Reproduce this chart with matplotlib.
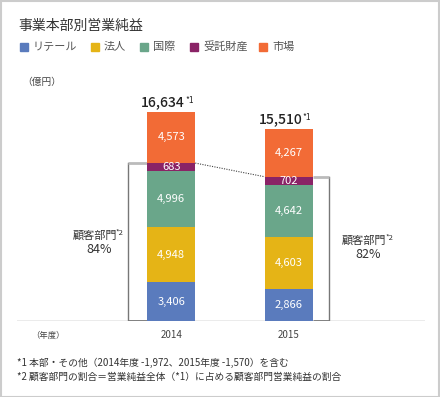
import numpy as np
import matplotlib
matplotlib.use('Agg')
import matplotlib.pyplot as plt

plt.rcParams['font.family'] = ['Noto Sans CJK JP', 'DejaVu Sans']

years = ['2014', '2015']
segments = ['リテール', '法人', '国際', '受託財産', '市場']
colors = ['#5a7bbd', '#e5b416', '#6aa68a', '#8a2366', '#f26b36']
values = {
    'リテール': [3406, 2866],
    '法人': [4948, 4603],
    '国際': [4996, 4642],
    '受託財産': [683, 702],
    '市場': [4573, 4267],
}
totals = ['16,634', '15,510']
customer_share = ['84%', '82%']

W, H = 440, 397
fig = plt.figure(figsize=(W / 100, H / 100), dpi=100)

def fx(px):
    return px / W

def fy(py):
    return 1 - py / H

# axes placement in pixels
base_px = 320.7
px_per_unit = 209.0 / 18606
ymax = 20000
ax_left, ax_right = 17, 425
ax = fig.add_axes([fx(ax_left), fy(base_px), fx(ax_right - ax_left), ymax * px_per_unit / H])
c0, c1 = 171.2, 288.8
step = c1 - c0
ax.set_xlim((ax_left - c0) / step, (ax_right - c0) / step)
ax.set_ylim(0, ymax)
ax.axis('off')

x = np.arange(len(years))
bw = 48 / step
bottom = np.zeros(len(years))
for seg, col in zip(segments, colors):
    v = np.array(values[seg])
    ax.bar(x, v, bw, bottom=bottom, color=col, edgecolor='none', zorder=2)
    for i in range(len(years)):
        ax.text(x[i], bottom[i] + v[i] / 2, f'{v[i]:,}', ha='center', va='center',
                color='white', fontsize=8, zorder=3)
    bottom += v

# totals on top
for i in range(len(years)):
    ax.annotate(totals[i], (x[i] - 0.07, bottom[i] + 250), ha='center', va='bottom',
                fontsize=10, color='#222222', fontweight='medium')
    ax.annotate('*1', (x[i] + 0.12, bottom[i] + 600), ha='left', va='bottom',
                fontsize=6, color='#222222')

# customer segment tops
cust = np.array(values['リテール']) + np.array(values['法人']) + np.array(values['国際']) + np.array(values['受託財産'])
ax.plot([x[0] + bw / 2, x[1] - bw / 2], [cust[0], cust[1]], color='#444444', lw=0.8,
        linestyle=(0, (1, 1.2)), zorder=1)

# brackets
bx = [(128.3 - c0) / step, (329.3 - c0) / step]
edge = [x[0] - bw / 2, x[1] + bw / 2]
for i in range(2):
    ax.plot([bx[i], bx[i]], [0, cust[i]], color='#777777', lw=1, zorder=1)
    ax.plot([bx[i], edge[i]], [cust[i], cust[i]], color='#bbbbbb', lw=2, zorder=1,
            solid_capstyle='butt')
    ax.plot([bx[i], edge[i]], [0, 0], color='#777777', lw=2, zorder=1,
            solid_capstyle='butt')

# baseline
ax.axhline(0, color='#999999', lw=1, zorder=0)

# customer share labels
for (cx, ty), s in zip([(99, 236), (368, 240.5)], customer_share):
    fig.text(fx(cx - 4), fy(ty), '顧客部門', ha='center', va='center',
             fontsize=8, color='#333333')
    fig.text(fx(cx + 17), fy(ty - 3), '*2', ha='left', va='center',
             fontsize=5.5, color='#333333')
    fig.text(fx(cx), fy(ty + 14), s, ha='center', va='center', fontsize=9, color='#333333')

# year labels
for i, yr in enumerate(years):
    fig.text(fx([c0, c1][i]), fy(335), yr, ha='center', va='center', fontsize=7, color='#444444')
fig.text(fx(48), fy(335), '（年度）', ha='center', va='center', fontsize=6, color='#444444')

# title & legend
fig.text(fx(18), fy(26), '事業本部別営業純益', ha='left', va='center', fontsize=10, color='#333333')
leg_x = [20, 91, 140, 190, 259]
for lx, seg, col in zip(leg_x, segments, colors):
    fig.patches.append(plt.Rectangle((fx(lx), fy(51)), fx(8), 8 / H, color=col,
                                     transform=fig.transFigure, figure=fig))
    fig.text(fx(lx + 13), fy(46.7), seg, ha='left', va='center', fontsize=8, color='#555555')

fig.text(fx(22), fy(82), '（億円）', ha='left', va='center', fontsize=7, color='#444444')

# footnotes
fig.text(fx(17), fy(363), '*1 本部・その他（2014年度 -1,972、2015年度 -1,570）を含む',
         ha='left', va='center', fontsize=7, color='#333333')
fig.text(fx(17), fy(377), '*2 顧客部門の割合＝営業純益全体（*1）に占める顧客部門営業純益の割合',
         ha='left', va='center', fontsize=7, color='#333333')

# outer border
fig.patches.append(plt.Rectangle((0.5 / W, 0.5 / H), 1 - 1.5 / W, 1 - 1.5 / H, fill=False,
                                 edgecolor='#cccccc', lw=1.5, transform=fig.transFigure, figure=fig))

fig.savefig('out.png', dpi=100)
